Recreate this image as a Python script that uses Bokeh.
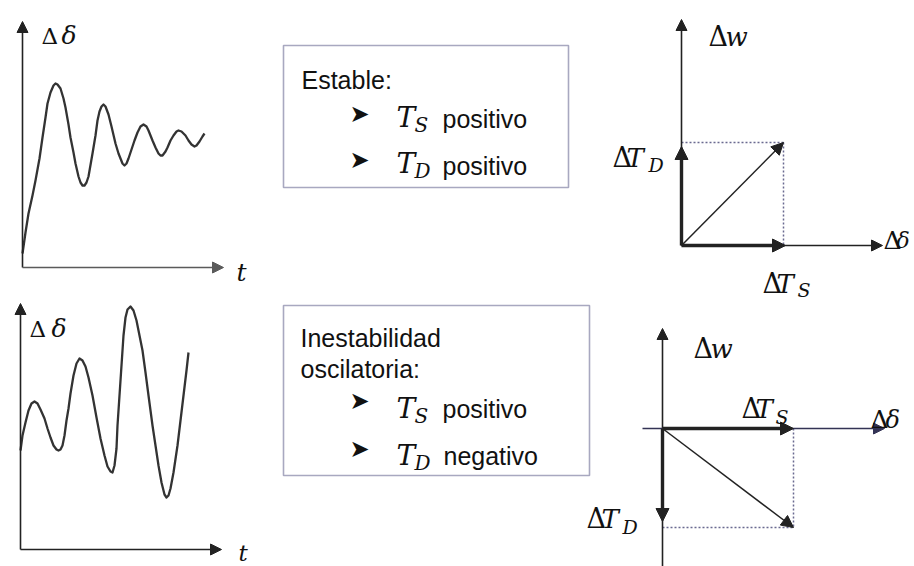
from bokeh.plotting import figure
from bokeh.models import Range1d, Arrow, NormalHead, Label
from bokeh.embed import file_html
from bokeh.resources import INLINE

stable_t = [22, 25, 28, 32, 35, 39, 42, 45, 47, 50, 53, 55, 57, 60, 63, 65, 68, 70, 73, 75,
            78, 80, 82, 84, 86, 88, 92, 95, 97, 99, 101, 103, 105, 108, 111, 115, 118, 120, 122, 124,
            126, 128, 130, 134, 137, 140, 143, 146, 148, 152, 155, 158, 160, 162, 165, 167, 170, 173, 176, 178,
            181, 185, 188, 191, 194, 196, 199, 202, 204]
stable_d = [253, 232, 213, 195, 180, 158, 137, 117, 103, 92, 85, 83, 84, 88, 98, 107, 124, 137, 152, 163,
            176, 182, 185, 185, 182, 176, 153, 135, 120, 111, 106, 104, 106, 114, 126, 143, 153, 158, 163, 165,
            163, 158, 152, 140, 132, 126, 124, 126, 130, 140, 147, 153, 155, 155, 151, 147, 140, 135, 131, 130,
            131, 135, 140, 144, 146, 145, 141, 136, 133]

unstable_t = [20, 22, 25, 28, 31, 34, 37, 40, 44, 47, 50, 53, 56, 58, 60, 62, 64, 66, 68, 70,
              73, 76, 79, 82, 85, 88, 92, 96, 100, 104, 107, 110, 112, 114, 116, 117, 119, 121, 123, 125,
              127, 130, 133, 136, 139, 142, 145, 148, 152, 155, 158, 161, 164, 166, 168, 170, 173, 177, 180, 183,
              186, 188]
unstable_d = [450, 435, 422, 410, 403, 401, 403, 409, 418, 428, 437, 445, 449, 450, 449, 445, 435, 420, 408, 393,
              375, 363, 358, 360, 366, 377, 395, 417, 438, 455, 466, 471, 472, 465, 448, 425, 395, 365, 335, 317,
              309, 306, 310, 320, 335, 350, 372, 395, 425, 445, 465, 482, 494, 497, 495, 488, 472, 445, 420, 395,
              370, 352]

# phasor diagrams: origin, tip of delta-T_S, tip of delta-T_D
stable_origin = (681, 245)
stable_ts = 783
stable_td = 142
unstable_origin = (662, 428)
unstable_ts = 793
unstable_td = 527

SANS = "Liberation Sans"
MATH = "DejaVu Serif"
INK = "#222222"

p = figure(width=914, height=566, x_range=Range1d(0, 914), y_range=Range1d(566, 0),
           output_backend="svg", toolbar_location=None, min_border=0,
           x_axis_location=None, y_axis_location=None)
p.grid.visible = False
p.outline_line_color = None
p.background_fill_color = "white"


def arrow(x0, y0, x1, y1, lw=1.5, size=11, color=INK):
    p.add_layout(Arrow(end=NormalHead(size=size, fill_color=color, line_color=color, line_width=1),
                       x_start=x0, y_start=y0, x_end=x1, y_end=y1,
                       line_width=lw, line_color=color))


def label(x, y, text, size, font=SANS, style="normal", align="left", baseline="alphabetic", color="#111111"):
    p.add_layout(Label(x=x, y=y, text=text, text_font=font, text_font_size=f"{size}px",
                       text_font_style=style, text_align=align, text_baseline=baseline,
                       text_color=color))


def dlabel(x, y, letter, lx, sub=None, sx=None, sy=7, dsize=27, lsize=26, ssize=19):
    label(x, y, "Δ", dsize, font=MATH)
    label(lx, y, letter, lsize, font=MATH, style="italic")
    if sub:
        label(sx, y + sy, sub, ssize, font=MATH, style="italic")


# ---- Time responses
# top-left: stable
arrow(22, 267, 22, 21, lw=1.6, size=11)
arrow(22, 267, 223, 267, lw=1.6, size=11, color="#5a5a5a")
p.line(stable_t, stable_d, line_width=2.3, line_color="#333333", line_join="round")
label(41, 35, "Δ", 23, font=MATH)
label(61, 35, "δ", 25, font=MATH, style="italic")
label(236, 272, "t", 25, font=MATH, style="italic")

# bottom-left: oscillatory instability
arrow(20, 549, 20, 303, lw=1.6, size=11)
arrow(20, 549, 221, 549, lw=1.6, size=11)
p.line(unstable_t, unstable_d, line_width=2.3, line_color="#333333", line_join="round")
label(29, 328, "Δ", 23, font=MATH)
label(51, 328, "δ", 25, font=MATH, style="italic")
label(238, 552, "t", 23, font=MATH, style="italic")

# ---- Text boxes
BOX = "#a8a8c0"
p.quad(left=[283, 283], right=[568, 589], top=[45, 305], bottom=[187, 475],
       fill_color="white", line_color=BOX, line_width=1.6)

BUL = "#111111"
label(301, 79, "Estable:", 25)
label(349, 113, "➤", 24, font="DejaVu Sans", baseline="middle", color=BUL)
label(396, 117, "T", 28, font=MATH, style="italic")
label(414, 124, "S", 20, font=MATH, style="italic")
label(442, 118, "positivo", 25)
label(349, 159, "➤", 24, font="DejaVu Sans", baseline="middle", color=BUL)
label(396, 163, "T", 28, font=MATH, style="italic")
label(414, 170, "D", 20, font=MATH, style="italic")
label(442, 165, "positivo", 25)

label(300, 337, "Inestabilidad", 25)
label(300, 368, "oscilatoria:", 25)
label(349, 400, "➤", 24, font="DejaVu Sans", baseline="middle", color=BUL)
label(396, 408, "T", 28, font=MATH, style="italic")
label(414, 415, "S", 20, font=MATH, style="italic")
label(442, 408, "positivo", 25)
label(349, 448, "➤", 24, font="DejaVu Sans", baseline="middle", color=BUL)
label(396, 455, "T", 28, font=MATH, style="italic")
label(414, 462, "D", 20, font=MATH, style="italic")
label(443, 455, "negativo", 25)

# ---- Phasor diagram, stable case
ox, oy = stable_origin
DOT = "#6a6a90"
p.line([ox, stable_ts], [stable_td, stable_td], line_dash="2 2", line_color=DOT, line_width=1.5)
p.line([stable_ts, stable_ts], [stable_td, oy], line_dash="2 2", line_color=DOT, line_width=1.5)
arrow(ox, oy, ox, 19, lw=1.6, size=11)
arrow(ox, oy, 882, oy, lw=1.6, size=11)
arrow(ox, oy, stable_ts + 2, oy, lw=3.4, size=13)
arrow(ox, oy, ox, stable_td + 4, lw=3.4, size=13)
arrow(ox, oy, stable_ts, stable_td, lw=1.5, size=12)

dlabel(708, 36, "w", lx=725)
dlabel(612, 157, "T", lx=626, sub="D", sx=648, sy=7)
dlabel(883, 240, "δ", lx=896, dsize=25, lsize=22)
dlabel(762, 283, "T", lx=776, sub="S", sx=797, sy=6)

# ---- Phasor diagram, oscillatory instability
ox, oy = unstable_origin
p.line([ox, unstable_ts], [unstable_td, unstable_td], line_dash="2 2", line_color=DOT, line_width=1.5)
p.line([unstable_ts, unstable_ts], [oy, unstable_td], line_dash="2 2", line_color=DOT, line_width=1.5)
arrow(ox, 566, ox, 328, lw=1.6, size=11)
arrow(642, oy, 884, oy, lw=1.6, size=11, color="#333355")
arrow(ox, oy, unstable_ts, oy, lw=3.4, size=13)
arrow(ox, oy, ox, unstable_td - 6, lw=3.4, size=13)
arrow(ox, oy, unstable_ts, unstable_td, lw=1.5, size=12)

dlabel(693, 348, "w", lx=710)
dlabel(741, 408, "T", lx=755, sub="S", sx=775, sy=8)
dlabel(870, 419, "δ", lx=885, dsize=25, lsize=24)
dlabel(586, 518, "T", lx=601, sub="D", sx=622, sy=8)

open("out.html", "w").write(file_html(p, INLINE))
